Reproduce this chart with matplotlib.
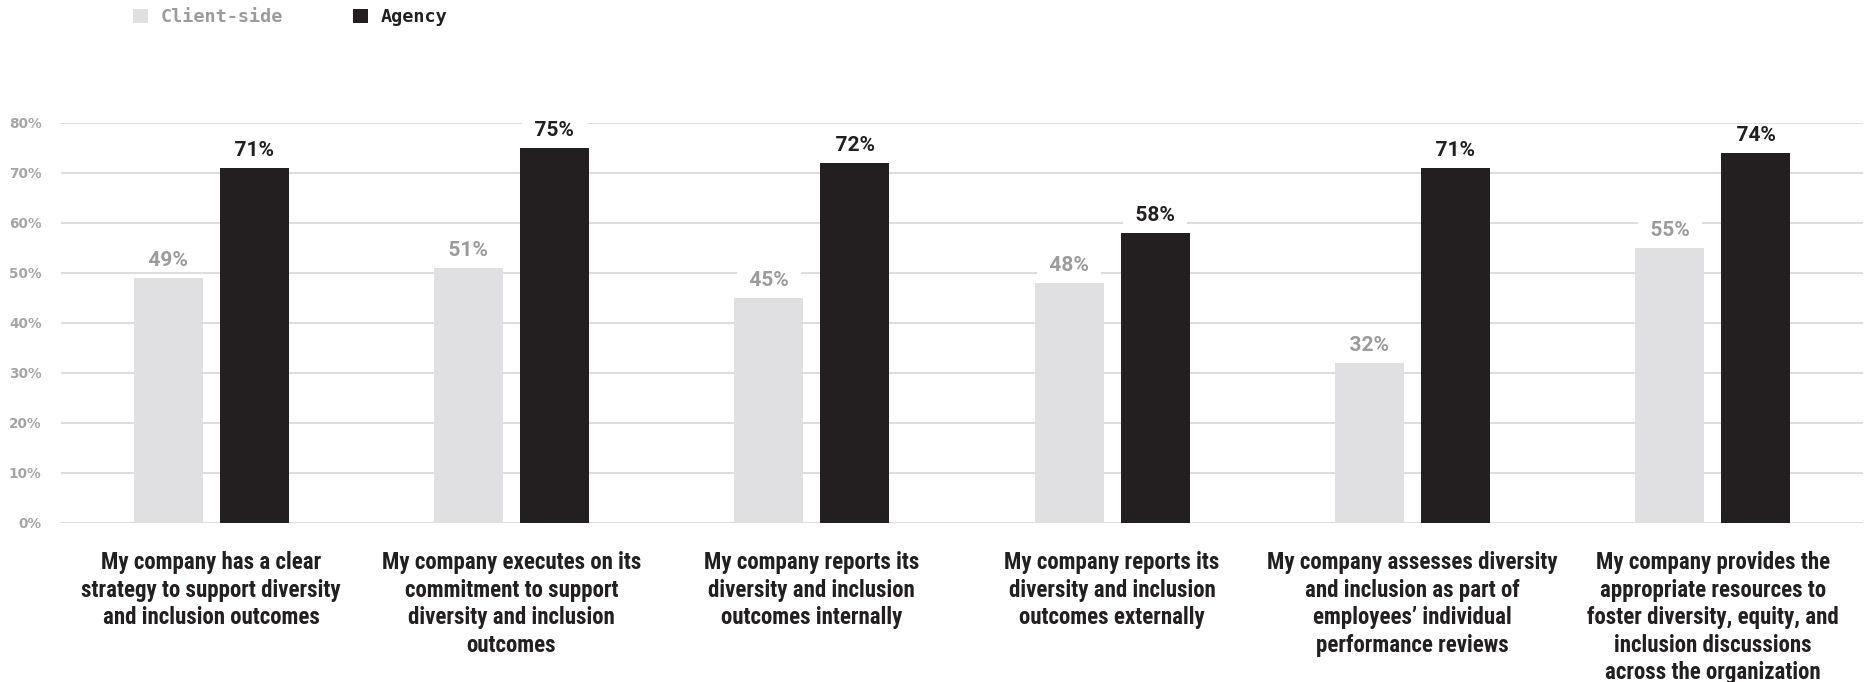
import matplotlib
matplotlib.use("Agg")
import matplotlib.pyplot as plt
from matplotlib.patches import Patch
import numpy as np

# Survey statements and the share agreeing, by respondent type
statements = [
    "My company has a clear\nstrategy to support diversity\nand inclusion outcomes",
    "My company executes on its\ncommitment to support\ndiversity and inclusion\noutcomes",
    "My company reports its\ndiversity and inclusion\noutcomes internally",
    "My company reports its\ndiversity and inclusion\noutcomes externally",
    "My company assesses diversity\nand inclusion as part of\nemployees\u2019 individual\nperformance reviews",
    "My company provides the\nappropriate resources to\nfoster diversity, equity, and\ninclusion discussions\nacross the organization",
]
client_side = [49, 51, 45, 48, 32, 55]
agency = [71, 75, 72, 58, 71, 74]
series_names = ["Client-side", "Agency"]
y_ticks = [0, 10, 20, 30, 40, 50, 60, 70, 80]

CLIENT_BAR = "#e0e0e2"
CLIENT_TEXT = "#9b9b9b"
AGENCY_BAR = "#231f20"
GRID = "#d3d3d3"
TICK_TEXT = "#a5a5a7"

CONDENSED = ["Roboto Condensed", "Archivo Narrow", "PT Sans Narrow",
             "Pragati Narrow", "DejaVu Sans"]

W, H = 1867, 682
fig = plt.figure(figsize=(W / 100, H / 100), dpi=100)
ax = fig.add_axes([61 / W, 1 - 523 / H, (1863 - 61) / W, (523 - 123) / H])

x = np.arange(len(statements))
bw = 0.23
off = 0.143

ax.set_axisbelow(True)
ax.yaxis.grid(True, color=GRID, linewidth=1.1)
ax.xaxis.grid(False)

b1 = ax.bar(x - off, client_side, width=bw, color=CLIENT_BAR, zorder=2)
b2 = ax.bar(x + off, agency, width=bw, color=AGENCY_BAR, zorder=2)

# value labels sit on a white patch so gridlines break around them
for bars, vals, col in [(b1, client_side, CLIENT_TEXT), (b2, agency, AGENCY_BAR)]:
    for rect, v in zip(bars, vals):
        ax.annotate(f"  {v}%  ", (rect.get_x() + rect.get_width() / 2, v),
                    xytext=(0, 8.6), textcoords="offset points",
                    ha="center", va="baseline", color=col, zorder=3,
                    annotation_clip=False, family=["Roboto", "DejaVu Sans"],
                    weight="bold", size=15,
                    bbox=dict(boxstyle="square,pad=0.1", fc="white", ec="none"))

ax.set_xlim(-0.5, 5.5)
ax.set_ylim(0, 80)
ax.set_yticks(y_ticks)
ax.set_yticklabels([f"{t}%" for t in y_ticks], color=TICK_TEXT,
                   fontfamily="DejaVu Sans", fontweight="bold", fontsize=9.8)
ax.tick_params(axis="y", length=0, pad=14)

ax.set_xticks(x)
ax.set_xticklabels(statements, fontfamily=CONDENSED,
                   fontweight="semibold", fontsize=16.5, color=AGENCY_BAR,
                   linespacing=1.25, ha="center", va="top")
ax.tick_params(axis="x", length=0, pad=20.5)

for s in ax.spines.values():
    s.set_visible(False)

handles = [Patch(facecolor=CLIENT_BAR, edgecolor="none"),
           Patch(facecolor=AGENCY_BAR, edgecolor="none")]
leg = fig.legend(handles, series_names, loc="center left",
                 bbox_to_anchor=(133 / W, 1 - 17.5 / H), ncol=2, frameon=False,
                 prop=dict(family="DejaVu Sans Mono", weight="bold", size=13.3),
                 handlelength=0.82, handleheight=0.82, handletextpad=0.7,
                 columnspacing=3.75, borderpad=0, borderaxespad=0)
for txt, col in zip(leg.get_texts(), [CLIENT_TEXT, AGENCY_BAR]):
    txt.set_color(col)

fig.savefig("out.png", dpi=100)
